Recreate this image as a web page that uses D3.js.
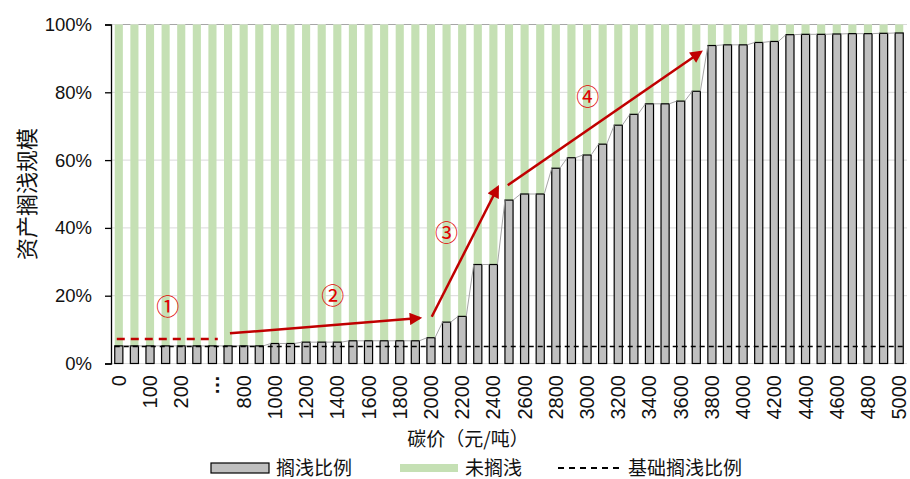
<!DOCTYPE html>
<html>
<head>
<meta charset="utf-8">
<script src="https://cdn.jsdelivr.net/npm/d3@7"></script>
<style>
  html, body { margin: 0; padding: 0; background: #fff; }
  svg { display: block; font-family: "Noto Sans CJK SC", "Liberation Sans", sans-serif; }
</style>
</head>
<body>
<svg id="chart" width="910" height="479"></svg>
<script>
// Carbon price categories (元/吨); only every other one carries a visible label
const categories = ["0","50","100","150","200","250","…","750","800","900",
  "1000","1100","1200","1300","1400","1500","1600","1700","1800","1900",
  "2000","2100","2200","2300","2400","2500","2600","2700","2800","2900",
  "3000","3100","3200","3300","3400","3500","3600","3700","3800","3900",
  "4000","4100","4200","4300","4400","4500","4600","4700","4800","4900","5000"];

// Share of assets stranded (%)
const stranded = [5.2,5.2,5.2,5.2,5.2,5.2,5.2,5.2,5.2,5.2,
  5.9,5.9,6.3,6.3,6.3,6.7,6.7,6.7,6.7,6.7,
  7.6,12.2,13.9,29.2,29.2,48.2,50.0,50.0,57.6,60.7,
  61.5,64.7,70.3,73.5,76.6,76.6,77.4,80.3,93.8,94.0,
  94.0,94.7,95.0,97.0,97.1,97.1,97.2,97.3,97.3,97.4,97.5];

// Share of assets not stranded (%)
const unstranded = [94.8,94.8,94.8,94.8,94.8,94.8,94.8,94.8,94.8,94.8,
  94.1,94.1,93.7,93.7,93.7,93.3,93.3,93.3,93.3,93.3,
  92.4,87.8,86.1,70.8,70.8,51.8,50.0,50.0,42.4,39.3,
  38.5,35.3,29.7,26.5,23.4,23.4,22.6,19.7,6.2,6.0,
  6.0,5.3,5.0,3.0,2.9,2.9,2.8,2.7,2.7,2.6,2.5];

// Baseline stranded share (%)
const baseline = 5.0;

const yTicks = [0, 20, 40, 60, 80, 100];
const seriesNames = ["搁浅比例", "未搁浅", "基础搁浅比例"];

// Stage arrows, in (category index, %) units
const stageArrows = [
  { from: [-0.13, 7.2], to: [6.34, 7.2], dashed: true },
  { from: [7.12, 8.9],  to: [19.28, 13.4] },
  { from: [20.05, 13.8], to: [24.28, 52.0] },
  { from: [24.92, 52.6], to: [37.29, 91.9] }
];
const stageLabels = [
  { text: "①", at: [3.14, 16.6] },
  { text: "②", at: [13.7, 19.9] },
  { text: "③", at: [21.0, 38.5] },
  { text: "④", at: [30.04, 78.6] }
];

const svg = d3.select("#chart");
const plotL = 111, plotR = 907, plotT = 24.5, plotB = 363.5;

const x = d3.scaleBand().domain(categories).range([plotL, plotR])
  .paddingInner(0.48).paddingOuter(0.24);
const y = d3.scaleLinear().domain([0, 100]).range([plotB, plotT]);
const bw = x.bandwidth();
// fractional category index -> pixel (band centre)
const xi = i => x(categories[0]) + bw / 2 + i * x.step();

const rows = categories.map((c, i) => ({ cat: c, s: stranded[i], u: unstranded[i] }));
const stack = d3.stack().keys(["s", "u"])(rows);

// gridlines
svg.append("g").selectAll("line").data(yTicks.filter(t => t > 0)).join("line")
  .attr("x1", plotL).attr("x2", plotR)
  .attr("y1", d => y(d)).attr("y2", d => y(d))
  .attr("stroke", "#d9d9d9").attr("stroke-width", 1);

// x axis line
svg.append("line").attr("x1", plotL).attr("x2", plotR)
  .attr("y1", y(0)).attr("y2", y(0))
  .attr("stroke", "#d9d9d9").attr("stroke-width", 1.2);

// not-stranded bars
svg.append("g").selectAll("rect").data(stack[1]).join("rect")
  .attr("x", d => x(d.data.cat)).attr("width", bw)
  .attr("y", d => y(d[1])).attr("height", d => y(d[0]) - y(d[1]))
  .attr("fill", "#c5e0b4");

// stranded bars
svg.append("g").selectAll("rect").data(stack[0]).join("rect")
  .attr("x", d => x(d.data.cat)).attr("width", bw)
  .attr("y", d => y(d[1])).attr("height", d => y(d[0]) - y(d[1]))
  .attr("fill", "#bfbfbf").attr("stroke", "#000").attr("stroke-width", 1.2);

// series lines joining bar tops
const pairs = d3.pairs(rows);
const sl = svg.append("g").attr("stroke", "#a6a6a6").attr("stroke-width", 1).attr("fill", "none");
sl.selectAll("line.s").data(pairs).join("line").attr("class", "s")
  .attr("x1", d => x(d[0].cat) + bw).attr("y1", d => y(d[0].s))
  .attr("x2", d => x(d[1].cat)).attr("y2", d => y(d[1].s));
sl.selectAll("line.u").data(pairs).join("line").attr("class", "u")
  .attr("x1", d => x(d[0].cat) + bw).attr("y1", d => y(d[0].s + d[0].u))
  .attr("x2", d => x(d[1].cat)).attr("y2", d => y(d[1].s + d[1].u));

// baseline dashed line
svg.append("line")
  .attr("x1", x(categories[0])).attr("x2", x(categories[categories.length - 1]) + bw)
  .attr("y1", y(baseline)).attr("y2", y(baseline))
  .attr("stroke", "#000").attr("stroke-width", 1.6).attr("stroke-dasharray", "5,4");

// y axis
const yAxis = svg.append("g").attr("transform", `translate(${plotL},0)`)
  .call(d3.axisLeft(y).tickValues(yTicks).tickFormat(d => d + "%").tickSize(6).tickPadding(13));
yAxis.select(".domain").attr("stroke", "#000").attr("stroke-width", 1.3);
yAxis.selectAll(".tick line").attr("stroke", "#000").attr("stroke-width", 1.3);
yAxis.selectAll("text").attr("font-size", 18.5).attr("fill", "#111")
  .style("font-family", "'Liberation Sans', sans-serif");

// x tick labels (every other category)
svg.append("g").selectAll("text").data(categories.filter((c, i) => i % 2 === 0)).join("text")
  .attr("transform", d => `translate(${x(d) + bw / 2},375) rotate(-90)`)
  .attr("text-anchor", "end").attr("dy", "0.35em")
  .attr("font-size", 20).attr("fill", "#111")
  .style("font-family", "'Liberation Sans', sans-serif")
  .attr("font-weight", d => d === "…" ? "bold" : null)
  .text(d => d);

// axis titles
svg.append("text").attr("transform", `translate(27,${(plotT + plotB) / 2}) rotate(-90)`)
  .attr("text-anchor", "middle").attr("dy", "0.35em")
  .attr("font-size", 22).attr("fill", "#111").text("资产搁浅规模");
svg.append("text").attr("x", 468).attr("y", 439)
  .attr("text-anchor", "middle").attr("dy", "0.35em")
  .attr("font-size", 19).attr("fill", "#111").text("碳价（元/吨）");

// stage arrows
const red = "#c00000";
const defs = svg.append("defs");
defs.append("marker").attr("id", "head").attr("viewBox", "0 0 10 10")
  .attr("refX", 8).attr("refY", 5).attr("markerWidth", 5.5).attr("markerHeight", 5)
  .attr("markerUnits", "strokeWidth").attr("orient", "auto")
  .append("path").attr("d", "M0,0 L10,5 L0,10 Z").attr("fill", red);

svg.append("g").selectAll("line").data(stageArrows).join("line")
  .attr("x1", d => xi(d.from[0])).attr("y1", d => y(d.from[1]))
  .attr("x2", d => xi(d.to[0])).attr("y2", d => y(d.to[1]))
  .attr("stroke", red).attr("stroke-width", 2.5)
  .attr("stroke-dasharray", d => d.dashed ? "8,6" : null)
  .attr("marker-end", d => d.dashed ? null : "url(#head)");

svg.append("g").selectAll("text").data(stageLabels).join("text")
  .attr("x", d => xi(d.at[0])).attr("y", d => y(d.at[1]))
  .attr("text-anchor", "middle").attr("dy", "0.35em")
  .attr("font-size", 23).attr("fill", "#e00000").text(d => d.text);

// legend
const lg = svg.append("g").attr("font-size", 19).attr("fill", "#111");
lg.append("rect").attr("x", 211).attr("y", 463).attr("width", 58).attr("height", 10)
  .attr("fill", "#bfbfbf").attr("stroke", "#000").attr("stroke-width", 1.2);
lg.append("text").attr("x", 276).attr("y", 468).attr("dy", "0.35em").text(seriesNames[0]);
lg.append("rect").attr("x", 400).attr("y", 464).attr("width", 58).attr("height", 8)
  .attr("fill", "#c5e0b4");
lg.append("text").attr("x", 465).attr("y", 468).attr("dy", "0.35em").text(seriesNames[1]);
lg.append("line").attr("x1", 558).attr("x2", 620).attr("y1", 468).attr("y2", 468)
  .attr("stroke", "#000").attr("stroke-width", 2).attr("stroke-dasharray", "6,5");
lg.append("text").attr("x", 628).attr("y", 468).attr("dy", "0.35em").text(seriesNames[2]);
</script>
</body>
</html>
